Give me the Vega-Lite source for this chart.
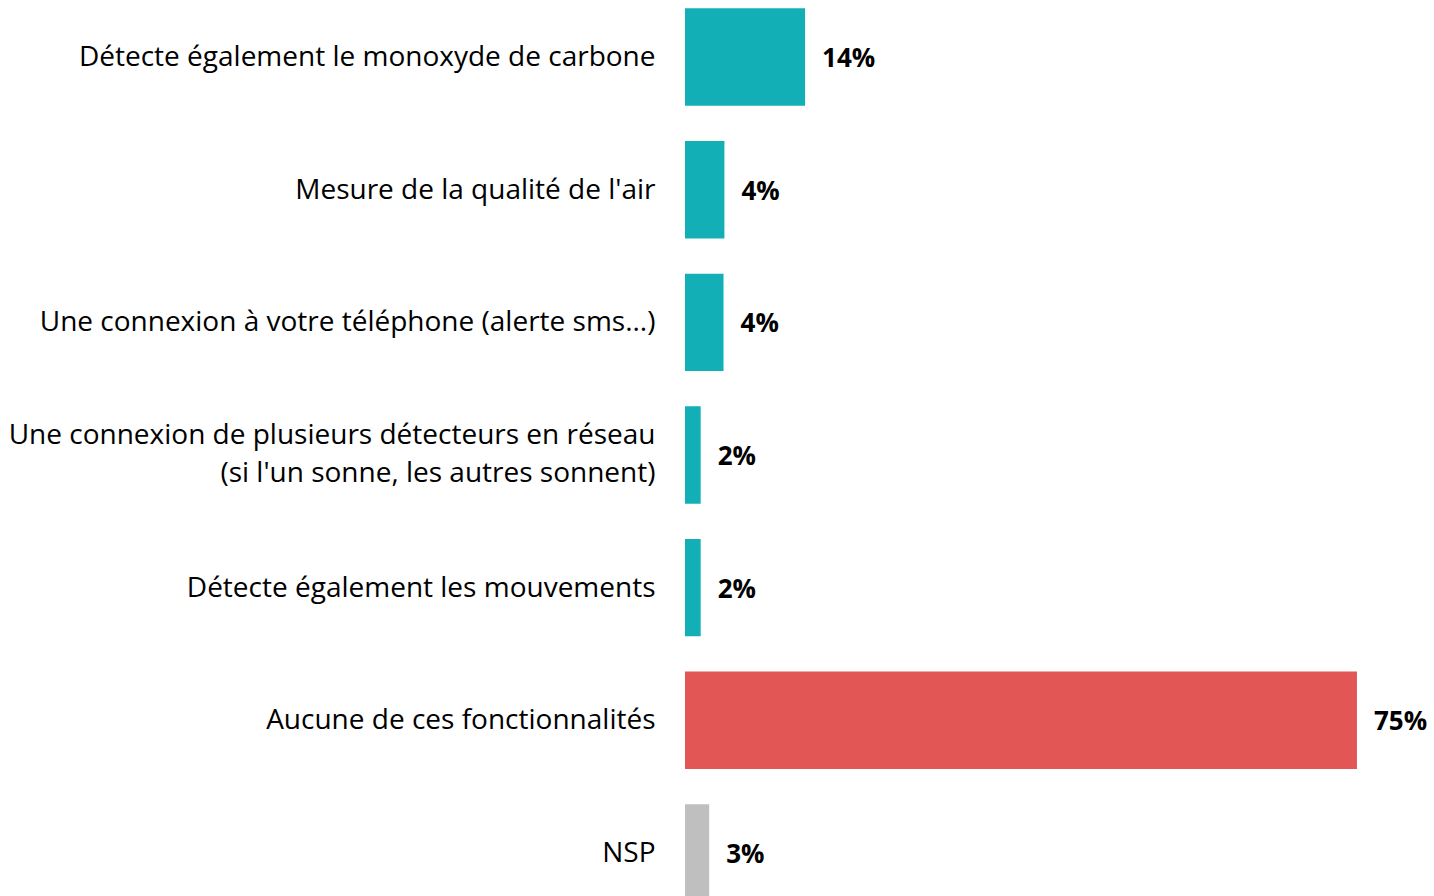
{
  "$schema": "https://vega.github.io/schema/vega-lite/v6.json",
  "autosize": "none",
  "padding": {"left": 685, "top": 0, "right": 0, "bottom": 0},
  "width": 749,
  "height": 910,
  "background": "white",
  "config": {"view": {"stroke": null}, "font": "Open Sans"},
  "data": {
    "values": [
      {"item": "Détecte également le monoxyde de carbone", "value": 13.4, "label": "14%", "group": "feature"},
      {"item": "Mesure de la qualité de l'air", "value": 4.4, "label": "4%", "group": "feature"},
      {"item": "Une connexion à votre téléphone (alerte sms...)", "value": 4.3, "label": "4%", "group": "feature"},
      {"item": "Une connexion de plusieurs détecteurs en réseau|(si l'un sonne, les autres sonnent)", "value": 1.75, "label": "2%", "group": "feature"},
      {"item": "Détecte également les mouvements", "value": 1.75, "label": "2%", "group": "feature"},
      {"item": "Aucune de ces fonctionnalités", "value": 75, "label": "75%", "group": "none"},
      {"item": "NSP", "value": 2.7, "label": "3%", "group": "nsp"}
    ]
  },
  "encoding": {
    "y": {
      "field": "item",
      "type": "nominal",
      "sort": null,
      "title": null,
      "scale": {"paddingInner": 0.266, "paddingOuter": 0.063},
      "axis": {
        "domain": false,
        "ticks": false,
        "labelPadding": 30,
        "labelFontSize": 28,
        "labelColor": "#000000",
        "labelFont": "Open Sans",
        "labelLimit": 0,
        "labelLineHeight": 38,
        "labelOffset": {"condition": {"test": "indexof(datum.value, '|') >= 0", "value": -19}, "value": 1},
        "labelExpr": "split(datum.label, '|')"
      }
    },
    "x": {
      "field": "value",
      "type": "quantitative",
      "scale": {"domain": [0, 83.6], "nice": false, "zero": true},
      "axis": null
    }
  },
  "layer": [
    {
      "mark": {"type": "bar"},
      "encoding": {
        "color": {
          "field": "group",
          "type": "nominal",
          "scale": {"domain": ["feature", "none", "nsp"], "range": ["#13AFB6", "#E35656", "#BFBFBF"]},
          "legend": null
        }
      }
    },
    {
      "mark": {"type": "text", "align": "left", "baseline": "middle", "dx": 17, "dy": 2, "fontSize": 26, "fontWeight": "bold", "font": "Open Sans", "color": "#000000"},
      "encoding": {"text": {"field": "label"}}
    }
  ]
}
